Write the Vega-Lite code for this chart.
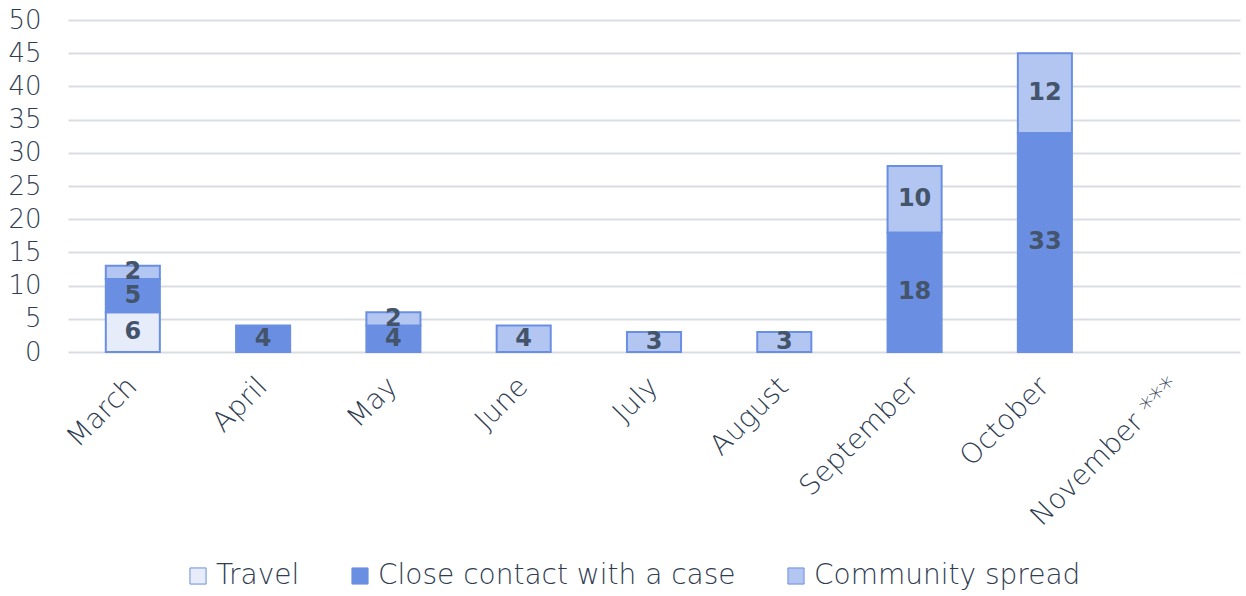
{
  "$schema": "https://vega.github.io/schema/vega-lite/v6.json",
  "width": 1172,
  "height": 332,
  "autosize": {"type": "none"},
  "padding": {"left": 68, "top": 20, "right": 6, "bottom": 244},
  "background": "white",
  "config": {
    "font": "DejaVu Sans",
    "view": {"stroke": null}
  },
  "data": {
    "values": [
      {"month": "March", "type": "Travel", "order": 1, "value": 6},
      {"month": "March", "type": "Close contact with a case", "order": 2, "value": 5},
      {"month": "March", "type": "Community spread", "order": 3, "value": 2},
      {"month": "April", "type": "Close contact with a case", "order": 2, "value": 4},
      {"month": "May", "type": "Close contact with a case", "order": 2, "value": 4},
      {"month": "May", "type": "Community spread", "order": 3, "value": 2},
      {"month": "June", "type": "Community spread", "order": 3, "value": 4},
      {"month": "July", "type": "Community spread", "order": 3, "value": 3},
      {"month": "August", "type": "Community spread", "order": 3, "value": 3},
      {"month": "September", "type": "Close contact with a case", "order": 2, "value": 18},
      {"month": "September", "type": "Community spread", "order": 3, "value": 10},
      {"month": "October", "type": "Close contact with a case", "order": 2, "value": 33},
      {"month": "October", "type": "Community spread", "order": 3, "value": 12},
      {"month": "November ***", "type": "Community spread", "order": 3, "value": null}
    ]
  },
  "encoding": {
    "x": {
      "field": "month",
      "type": "nominal",
      "sort": ["March", "April", "May", "June", "July", "August", "September", "October", "November ***"],
      "scale": {"paddingInner": 0.585, "paddingOuter": 0.29},
      "axis": {
        "title": null,
        "labelAngle": -45,
        "labelAlign": "right",
        "labelBaseline": "middle",
        "labelFontSize": 28,
        "labelFontWeight": 300,
        "labelColor": "#2f3d52",
        "labelPadding": 30,
        "labelLimit": 300,
        "ticks": false,
        "domain": false,
        "grid": false
      }
    },
    "y": {
      "field": "value",
      "type": "quantitative",
      "aggregate": "sum",
      "stack": "zero",
      "scale": {"domain": [0, 50], "nice": false},
      "axis": {
        "title": null,
        "values": [0, 5, 10, 15, 20, 25, 30, 35, 40, 45, 50],
        "labelFontSize": 26,
        "labelFontWeight": 300,
        "labelColor": "#2f3d52",
        "labelPadding": 27,
        "ticks": false,
        "domain": false,
        "gridColor": "#d9dde3",
        "gridWidth": 2
      }
    },
    "order": {"field": "order", "type": "quantitative"}
  },
  "layer": [
    {
      "mark": {"type": "bar", "stroke": "#6a8fe2", "strokeWidth": 2},
      "encoding": {
        "color": {
          "field": "type",
          "type": "nominal",
          "sort": ["Travel", "Close contact with a case", "Community spread"],
          "scale": {
            "domain": ["Travel", "Close contact with a case", "Community spread"],
            "range": ["#e6ecfa", "#6a8fe2", "#b3c6f2"]
          },
          "legend": {
            "title": null,
            "orient": "none",
            "direction": "horizontal",
            "legendX": 116,
            "legendY": 542,
            "symbolType": "square",
            "symbolSize": 260,
            "symbolStrokeColor": "#6a8fe2",
            "symbolStrokeWidth": 1,
            "labelFontSize": 28,
            "labelFontWeight": 300,
            "labelColor": "#2f3d52",
            "labelOffset": 4,
            "columnPadding": 46,
            "labelLimit": 500
          }
        }
      }
    },
    {
      "mark": {"type": "text", "fontSize": 24, "fontWeight": "bold", "color": "#44546a", "baseline": "middle"},
      "encoding": {
        "y": {
          "field": "value",
          "type": "quantitative",
          "aggregate": "sum",
          "stack": "zero",
          "bandPosition": 0.5
        },
        "text": {"field": "value", "type": "quantitative", "aggregate": "sum"},
        "detail": {"field": "type"}
      }
    }
  ]
}
